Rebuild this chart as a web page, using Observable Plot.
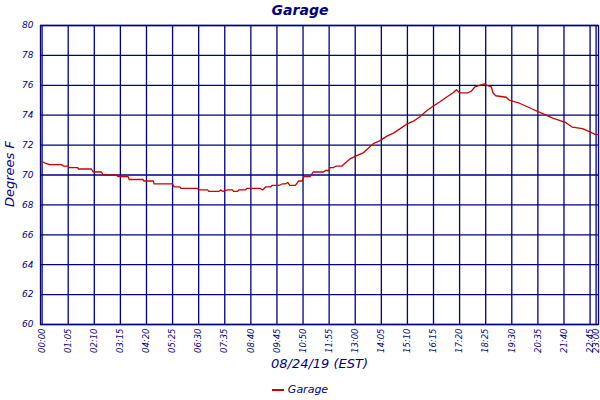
<!DOCTYPE html>
<html>
<head>
<meta charset="utf-8">
<script src="https://cdn.jsdelivr.net/npm/d3@7"></script>
<script src="https://cdn.jsdelivr.net/npm/@observablehq/plot@0.6"></script>
<style>
  body { margin: 0; background: #fff; width: 600px; height: 400px; overflow: hidden; position: relative; font-family: "DejaVu Sans", sans-serif; }
  #title { position: absolute; left: 0; top: 0; width: 600px; line-height: 20px; text-align: center; font-style: italic; font-weight: bold; font-size: 14px; color: #000080; z-index: 2; }
  #chart { position: absolute; left: 0; top: 0; }
  #chart svg { display: block; overflow: visible; }
  #ytitle { position: absolute; left: 9px; top: 174px; transform: translate(-50%, -50%) rotate(-90deg); white-space: nowrap; font-style: italic; font-size: 13px; color: #000080; }
  #legend { position: absolute; left: 0; top: 380px; width: 600px; height: 20px; line-height: 20px; text-align: center; font-style: italic; font-size: 11px; color: #000080; }
  #legend .sw { display: inline-block; width: 12px; height: 2px; background: #cc0000; vertical-align: middle; margin-right: 4px; }
</style>
</head>
<body>
<div id="chart"></div>
<div id="title"></div>
<div id="ytitle"></div>
<div id="legend"><span class="sw"></span><span id="lgtext"></span></div>
<script>
// Readings (time of day, degrees F)
const times = [
  "00:00","00:07","00:19","00:48","00:53","01:05","01:07","01:28","01:31","02:03",
  "02:07","02:28","02:32","03:05","03:09","03:34","03:37","04:11","04:14","04:37",
  "04:39","05:25","05:29","05:43","05:46","06:27","06:31","06:52","06:55","07:20",
  "07:25","07:30","07:42","07:54","07:57","08:07","08:10","08:27","08:30","09:04",
  "09:09","09:17","09:29","09:33","09:50","09:58","10:06","10:12","10:17","10:31",
  "10:39","10:48","10:52","11:08","11:15","11:41","11:46","11:54","11:58","12:06",
  "12:13","12:27","12:35","12:48","13:04","13:21","13:29","13:45","14:02","14:19",
  "14:35","14:52","15:08","15:25","15:41","15:58","16:14","16:31","16:47","17:04",
  "17:12","17:20","17:33","17:41","17:49","17:58","18:10","18:22","18:28","18:39",
  "18:43","18:50","19:16","19:24","19:49","20:06","20:22","20:47","21:12","21:45",
  "22:01","22:26","22:43","22:59","23:05"
];
const temps = [
  70.9,70.8,70.7,70.7,70.6,70.6,70.5,70.5,70.4,70.4,
  70.2,70.2,70.0,70.0,69.9,69.9,69.7,69.7,69.6,69.6,
  69.4,69.4,69.2,69.2,69.1,69.1,69.0,69.0,68.9,68.9,
  69.0,68.9,69.0,69.0,68.9,68.9,69.0,69.0,69.1,69.1,
  69.0,69.2,69.2,69.3,69.3,69.4,69.4,69.5,69.3,69.3,
  69.6,69.6,69.9,69.9,70.2,70.2,70.3,70.3,70.5,70.5,
  70.6,70.6,70.8,71.1,71.3,71.5,71.7,72.1,72.3,72.6,
  72.8,73.1,73.4,73.6,73.9,74.3,74.6,74.9,75.2,75.5,
  75.7,75.5,75.5,75.5,75.6,75.9,76.0,76.1,76.0,75.9,
  75.5,75.3,75.2,75.0,74.8,74.6,74.4,74.1,73.8,73.5,
  73.2,73.1,72.9,72.7,72.7
];
const xTickLabels = ["00:00","01:05","02:10","03:15","04:20","05:25","06:30","07:35","08:40","09:45","10:50","11:55",
  "13:00","14:05","15:10","16:15","17:20","18:25","19:30","20:35","21:40","22:45","23:00"];
const yTicks = [60,62,64,66,68,70,72,74,76,78,80];
const chartTitle = "Garage";
const seriesName = "Garage";
const xAxisTitle = "08/24/19 (EST)";
const yAxisTitle = "Degrees F";

const toMin = s => { const [h, m] = s.split(":").map(Number); return h * 60 + m; };
const data = times.map((t, i) => ({ t: toMin(t), v: temps[i] }));
const xTicks = xTickLabels.map(toMin);
const labelOf = new Map(xTicks.map((m, i) => [m, xTickLabels[i]]));

const navy = "#000080";
const plot = Plot.plot({
  width: 600,
  height: 376,
  marginTop: 25,
  marginBottom: 52,
  marginLeft: 40,
  marginRight: 2,
  style: { fontFamily: "DejaVu Sans, sans-serif", fontSize: "9px", fontStyle: "italic", color: navy, background: "transparent", overflow: "visible" },
  x: { domain: [-4, 1386] },
  y: { domain: [60, 80] },
  marks: [
    Plot.gridX(xTicks, { stroke: navy, strokeOpacity: 1, strokeWidth: 1.3 }),
    Plot.gridY(yTicks, { stroke: navy, strokeOpacity: 1, strokeWidth: 1.3 }),
    Plot.frame({ stroke: navy, strokeWidth: 1.3 }),
    Plot.line(data, { x: "t", y: "v", stroke: "#cc0000", strokeWidth: 1.3 }),
    Plot.axisX(xTicks, { tickSize: 0, tickPadding: 4, tickRotate: -90, fontSize: 8.5, tickFormat: d => labelOf.get(d), label: null }),
    Plot.axisY(yTicks, { tickSize: 0, tickPadding: 7, label: null }),
    Plot.text([xAxisTitle], { frameAnchor: "bottom", dy: 43, fontSize: 13, fill: navy })
  ]
});
document.getElementById("chart").appendChild(plot);
document.getElementById("title").textContent = chartTitle;
document.getElementById("ytitle").textContent = yAxisTitle;
document.getElementById("lgtext").textContent = seriesName;
</script>
</body>
</html>
